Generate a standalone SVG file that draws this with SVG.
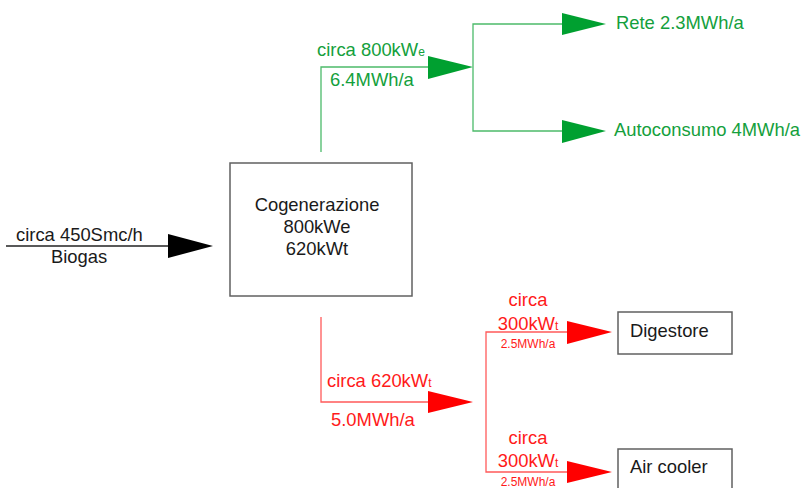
<svg xmlns="http://www.w3.org/2000/svg" width="802" height="488" viewBox="0 0 802 488">
<style>
text{font-family:"Liberation Sans",Arial,sans-serif;font-size:18.4px}
.g{fill:#14a03c}
.r{fill:#ff1a1a}
.k{fill:#1a1a1a}
.sm{font-size:12px}
.sub{font-size:12px}
.box{fill:#fff;stroke:#606060;stroke-width:1.5}
.lg{fill:none;stroke:#4cbb6a;stroke-width:1.3}
.lr{fill:none;stroke:#ff5a5a;stroke-width:1.3}
.lk{fill:none;stroke:#222;stroke-width:1.3}
.ag{fill:#00a030}
.ar{fill:#ff0000}
.ak{fill:#000}
</style>
<rect width="802" height="488" fill="#fff"/>
<g id="connectors">
<polyline class="lk" points="6,246 170,246"/>
<polygon class="ak" points="168,234 213,246 168,258"/>
<polyline class="lg" points="321,152 321,67 430,67"/>
<polygon class="ag" points="428,56 473,67 428,79"/>
<polyline class="lg" points="564,24 473,24 473,131 564,131"/>
<polygon class="ag" points="562,13 606,24 562,35"/>
<polygon class="ag" points="562,120 606,131 562,143"/>
<polyline class="lr" points="321,317 321,402 430,402"/>
<polygon class="ar" points="428,391 473,402 428,413"/>
<polyline class="lr" points="569,332 486,332 486,472 569,472"/>
<polygon class="ar" points="567,321 612,332 567,344"/>
<polygon class="ar" points="567,461 612,472 567,483"/>
</g>
<g id="labels">
<text class="k" x="16" y="241">circa 450Smc/h</text>
<text class="k" x="79" y="263" text-anchor="middle">Biogas</text>
<text class="g" x="317" y="56">circa 800kW<tspan class="sub">e</tspan></text>
<text class="g" x="330" y="86">6.4MWh/a</text>
<text class="g" x="616" y="29">Rete 2.3MWh/a</text>
<text class="g" x="614" y="136">Autoconsumo 4MWh/a</text>
<text class="r" x="327" y="387">circa 620kW<tspan class="sub">t</tspan></text>
<text class="r" x="331" y="426">5.0MWh/a</text>
<text class="r" x="528" y="306" text-anchor="middle">circa</text>
<text class="r" x="528" y="330" text-anchor="middle">300kW<tspan class="sub">t</tspan></text>
<text class="r sm" x="528" y="348" text-anchor="middle">2.5MWh/a</text>
<text class="r" x="528" y="444" text-anchor="middle">circa</text>
<text class="r" x="528" y="467" text-anchor="middle">300kW<tspan class="sub">t</tspan></text>
<text class="r sm" x="528" y="486" text-anchor="middle">2.5MWh/a</text>
</g>
<g id="cogenerazione">
<rect class="box" x="230" y="163" width="182" height="133"/>
<text class="k" x="317" y="211" text-anchor="middle">Cogenerazione</text>
<text class="k" x="317" y="233" text-anchor="middle">800kWe</text>
<text class="k" x="317" y="255" text-anchor="middle">620kWt</text>
</g>
<g id="digestore">
<rect class="box" x="618" y="312" width="114" height="42"/>
<text class="k" x="630" y="337">Digestore</text>
</g>
<g id="aircooler">
<rect class="box" x="618" y="449" width="114" height="45"/>
<text class="k" x="630" y="473">Air cooler</text>
</g>
</svg>
